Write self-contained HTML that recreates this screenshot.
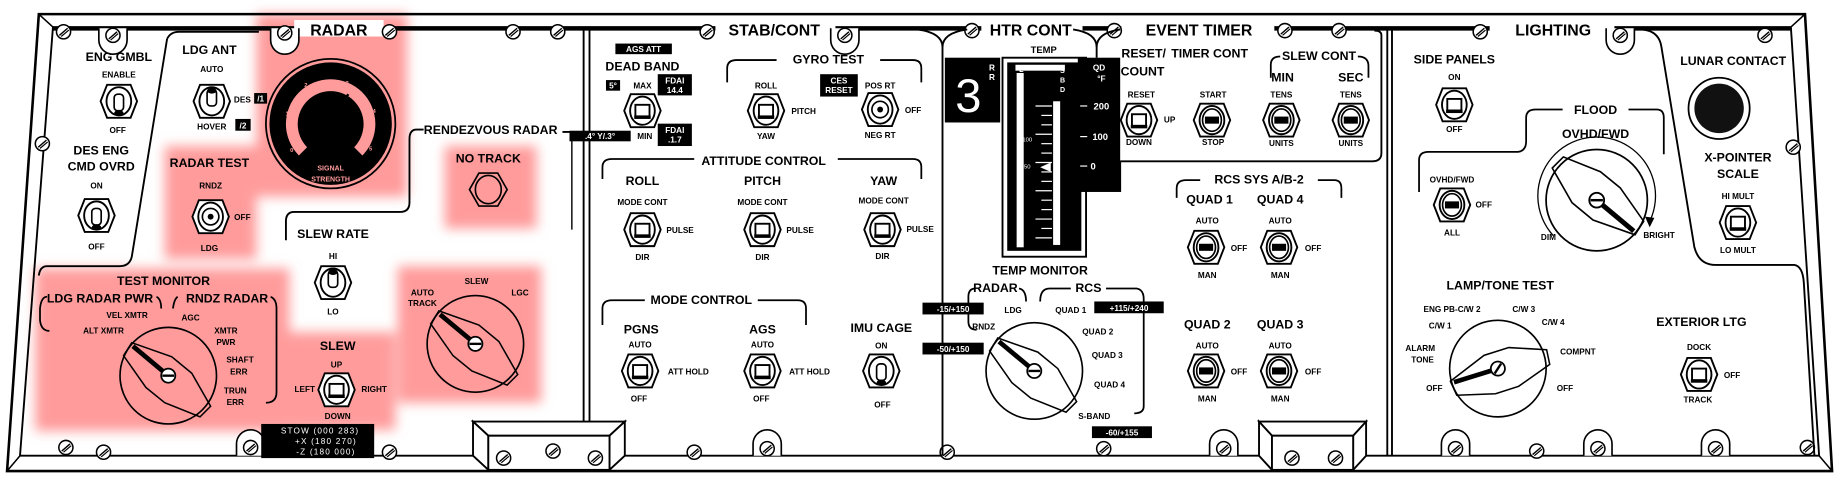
<!DOCTYPE html>
<html><head><meta charset="utf-8"><style>
html,body{margin:0;padding:0;background:#fff;}
svg{display:block;}
text{font-family:"Liberation Sans",sans-serif;font-weight:bold;fill:#000;text-anchor:middle;}
.t{font-size:10.5px;}
.h{font-size:13.5px;}
.s{font-size:7px;}
.w{fill:#fff;font-size:7px;}
</style></head><body>
<svg width="1845" height="484" viewBox="0 0 1568 411" preserveAspectRatio="none" xmlns="http://www.w3.org/2000/svg">
<defs>
<filter id="bl" x="-20%" y="-20%" width="140%" height="140%"><feGaussianBlur stdDeviation="5"/></filter>
<g id="nut"><polygon points="-15.5,0 -10,-14 10,-14 15.5,0 10,14 -10,14" fill="#fff" stroke="#000" stroke-width="1.6"/><ellipse rx="10.5" ry="12" fill="#fff" stroke="#000" stroke-width="1.6"/></g>
<g id="tg"><use href="#nut"/><rect x="-4" y="-6" width="8" height="14" rx="3" fill="#fff" stroke="#000" stroke-width="1.4"/><ellipse cx="0" cy="10" rx="4" ry="2.5" fill="#000"/></g>
<g id="tu"><use href="#nut"/><rect x="-4" y="-10" width="8" height="14" rx="3" fill="#fff" stroke="#000" stroke-width="1.4"/><ellipse cx="0" cy="-9" rx="4" ry="2.5" fill="#000"/></g>
<g id="rk"><use href="#nut"/><ellipse rx="8" ry="9.5" fill="none" stroke="#000" stroke-width="1.4"/><rect x="-6" y="-3" width="12" height="6" fill="#000"/></g>
<g id="bx"><use href="#nut"/><rect x="-6" y="-5" width="12" height="10" fill="#fff" stroke="#000" stroke-width="1.6"/><rect x="-7" y="4" width="14" height="3" fill="#000"/></g>
<g id="rot"><circle r="41" fill="none" stroke="#000" stroke-width="1.4"/>
<polygon points="-31,-28 3,-16 20,-2 36,26 27,35 -3,23 -19,10 -38,-17" fill="none" stroke="#000" stroke-width="1.3"/>
<line x1="0" y1="0" x2="-30" y2="-25" stroke="#000" stroke-width="4"/>
<circle r="6" fill="#fff" stroke="#000" stroke-width="1.5"/><line x1="-5" y1="0" x2="5" y2="0" stroke="#000" stroke-width="2"/></g>
<g id="sc"><circle r="6" fill="#fff" stroke="#000" stroke-width="1.3"/><line x1="-3.5" y1="3" x2="3.5" y2="-3" stroke="#000" stroke-width="1.2"/><line x1="-2" y1="4" x2="4.5" y2="-1.5" stroke="#000" stroke-width="1"/></g>
</defs>

<g fill="#ff9b9b" filter="url(#bl)">
<rect x="218" y="12" width="128" height="155"/>
<rect x="140" y="124" width="78" height="96"/>
<rect x="378" y="124" width="78" height="70"/>
<rect x="30" y="228" width="216" height="138"/>
<rect x="244" y="282" width="92" height="83"/>
<rect x="338" y="226" width="122" height="116"/>
</g>

<polygon points="33,12 1534,12 1557,400 6,400" fill="none" stroke="#000" stroke-width="2.2"/>
<polygon points="45,23 1522,23 1546,387 17,387" fill="none" stroke="#000" stroke-width="1.6"/>
<line x1="33" y1="12" x2="45" y2="23" stroke="#000" stroke-width="1.3"/>
<line x1="1534" y1="12" x2="1522" y2="23" stroke="#000" stroke-width="1.3"/>
<line x1="6" y1="400" x2="17" y2="387" stroke="#000" stroke-width="1.3"/>
<line x1="1557" y1="400" x2="1546" y2="387" stroke="#000" stroke-width="1.3"/>
<line x1="45" y1="24.5" x2="1522" y2="24.5" stroke="#000" stroke-width="3"/>

<g fill="#fff">
<rect x="250" y="17" width="76" height="14"/>
<rect x="608" y="17" width="102" height="14"/>
<rect x="834" y="17" width="86" height="14"/>
<rect x="953" y="17" width="130" height="14"/>
<rect x="1266" y="17" width="106" height="14"/>
</g>
<text class="h" x="288" y="30">RADAR</text>
<text class="h" x="658" y="30">STAB/CONT</text>
<text class="h" x="876" y="30">HTR CONT</text>
<text class="h" x="1019" y="30">EVENT TIMER</text>
<text class="h" x="1320" y="30">LIGHTING</text>

<g fill="#fff" stroke="#000" stroke-width="1.4">
<path d="M84,24 L84,34 A12,12 0 0 0 108,34 L108,24"/>
<path d="M230,24 L230,34 A12,12 0 0 0 254,34 L254,24"/>
<path d="M706,24 L706,34 A12,12 0 0 0 730,34 L730,24"/>
<path d="M1365,24 L1365,34 A12,12 0 0 0 1389,34 L1389,24"/>
<path d="M201,387 L201,377 A12,12 0 0 1 225,377 L225,387"/>
<path d="M640,387 L640,377 A12,12 0 0 1 664,377 L664,387"/>
<path d="M1028,387 L1028,377 A12,12 0 0 1 1052,377 L1052,387"/>
<path d="M1225,387 L1225,377 A12,12 0 0 1 1249,377 L1249,387"/>
<path d="M1346,387 L1346,377 A12,12 0 0 1 1370,377 L1370,387"/>
<path d="M1446,387 L1446,377 A12,12 0 0 1 1470,377 L1470,387"/>
</g>
<use href="#sc" x="54" y="27"/><use href="#sc" x="96" y="30"/><use href="#sc" x="242" y="28"/><use href="#sc" x="331" y="27"/>
<use href="#sc" x="436" y="27"/><use href="#sc" x="474" y="27"/><use href="#sc" x="601" y="27"/><use href="#sc" x="718" y="30"/>
<use href="#sc" x="826" y="26"/><use href="#sc" x="947" y="26"/><use href="#sc" x="1092" y="26"/><use href="#sc" x="1138" y="26"/>
<use href="#sc" x="1258" y="27"/><use href="#sc" x="1377" y="30"/><use href="#sc" x="1500" y="30"/><use href="#sc" x="1524" y="125"/>
<use href="#sc" x="36" y="122"/><use href="#sc" x="56" y="380"/><use href="#sc" x="88" y="384"/><use href="#sc" x="213" y="380"/>
<use href="#sc" x="331" y="384"/><use href="#sc" x="590" y="384"/><use href="#sc" x="652" y="381"/><use href="#sc" x="805" y="384"/>
<use href="#sc" x="938" y="381"/><use href="#sc" x="1040" y="381"/><use href="#sc" x="1237" y="381"/><use href="#sc" x="1306" y="383"/>
<use href="#sc" x="1358" y="381"/><use href="#sc" x="1458" y="381"/><use href="#sc" x="1536" y="380"/>

<g stroke="#000" fill="none" stroke-width="1.6">
<line x1="496" y1="25" x2="496" y2="387"/><line x1="501" y1="25" x2="501" y2="387"/>
<path d="M142,33 Q145,27 152,27 L220,27"/>
<path d="M142,33 L112,218 Q110,226 102,226 L40,226 Q34,226 33,234"/>
<path d="M780,25 Q801,28 801,40 L801,387"/>
<path d="M822,25 Q801,28 801,40"/>
<path d="M912,25 Q932,28 932,40 L932,49"/>
<path d="M952,25 Q932,28 932,40"/>
<path d="M1174,30 Q1174,26 1168,26 M1174,30 L1174,130 Q1174,137 1166,137 L952,137"/>
<line x1="1179" y1="25" x2="1179" y2="387"/><line x1="1183" y1="25" x2="1183" y2="387"/>
<path d="M1395,25 Q1410,26 1412,40 L1440,210 Q1444,225 1458,225 L1525,225 Q1532,226 1533,240 L1542,387"/>
<path d="M360,110 L354,110 Q348,110 348,118 L348,172 Q348,180 340,180 L250,180 Q243,180 243,188 L243,204"/>
<line x1="478" y1="112" x2="497" y2="112"/>
<path d="M486,114 L486,195" stroke-width="1.2"/>
</g>

<g stroke="#000" stroke-width="1.6" fill="#fff">
<polygon points="402,358 531,358 518,370 415,370"/>
<polygon points="402,358 415,370 415,399 402,387"/>
<polygon points="531,358 518,370 518,399 531,387"/>
<rect x="415" y="370" width="103" height="29"/>
<polygon points="1070,358 1161,358 1150,370 1081,370"/>
<polygon points="1070,358 1081,370 1081,399 1070,387"/>
<polygon points="1161,358 1150,370 1150,399 1161,387"/>
<rect x="1081" y="370" width="69" height="29"/>
</g>
<use href="#sc" x="428" y="389"/><use href="#sc" x="470" y="383"/><use href="#sc" x="506" y="389"/>
<use href="#sc" x="1098" y="389"/><use href="#sc" x="1135" y="389"/>

<text class="t" x="101" y="52">ENG GMBL</text>
<text class="s" x="101" y="66">ENABLE</text>
<use href="#tg" x="101" y="86"/>
<text class="s" x="100" y="113">OFF</text>
<text class="t" x="86" y="131">DES ENG</text>
<text class="t" x="86" y="145">CMD OVRD</text>
<text class="s" x="82" y="160">ON</text>
<use href="#tg" x="82" y="183"/>
<text class="s" x="82" y="212">OFF</text>

<text class="t" x="178" y="46">LDG ANT</text>
<text class="s" x="180" y="61">AUTO</text>
<use href="#tu" x="180" y="86"/>
<text class="s" x="206" y="87">DES</text>
<rect x="216" y="79" width="11" height="9" fill="#000"/><text class="w" x="221.5" y="86">/1</text>
<text class="s" x="180" y="110">HOVER</text>
<rect x="200" y="101" width="13" height="10" fill="#000"/><text class="w" x="206.5" y="109">/2</text>

<circle cx="281" cy="105" r="55" fill="none" stroke="#000" stroke-width="1.5"/>
<circle cx="281" cy="105" r="52" fill="#000"/>
<path d="M254,132 A38,38 0 1 1 308,132 L301,125 A28,28 0 1 0 261,125 Z" fill="#ff9b9b"/>
<circle cx="281" cy="105" r="16" fill="#000"/>
<polygon points="263,125 299,125 305,136 257,136" fill="#000"/>
<text x="281" y="145" style="fill:#ff9b9b;font-size:6px">SIGNAL</text><text x="281" y="154" style="fill:#ff9b9b;font-size:6px">STRENGTH</text>
<text x="248" y="129" style="fill:#ff9b9b;font-size:5px">0</text><text x="244" y="98" style="fill:#ff9b9b;font-size:5px">1</text><text x="260" y="74" style="fill:#ff9b9b;font-size:5px">2</text><text x="295" y="72" style="fill:#ff9b9b;font-size:5px">3</text><text x="318" y="96" style="fill:#ff9b9b;font-size:5px">4</text><text x="315" y="128" style="fill:#ff9b9b;font-size:5px">5</text>
<line x1="292" y1="86" x2="296" y2="80" stroke="#000" stroke-width="2"/>

<text class="t" x="178" y="142">RADAR TEST</text>
<text class="s" x="179" y="160">RNDZ</text>
<use href="#nut" x="179" y="184"/><circle cx="179" cy="184" r="7" fill="none" stroke="#000" stroke-width="1.4"/><circle cx="179" cy="184" r="2.5" fill="#000"/>
<text class="s" x="206" y="187">OFF</text>
<text class="s" x="178" y="213">LDG</text>

<text class="t" x="417" y="114">RENDEZVOUS RADAR</text>
<rect x="484" y="111" width="52" height="9" fill="#000"/><text class="w" x="510" y="118">.4° Y/.3°</text>
<text class="t" x="415" y="138">NO TRACK</text>
<polygon points="399,161 407,147 423,147 431,161 423,175 407,175" fill="none" stroke="#000" stroke-width="1.4"/>
<ellipse cx="415" cy="161" rx="11" ry="12" fill="none" stroke="#000" stroke-width="1.4"/>

<text class="t" x="283" y="202">SLEW RATE</text>
<text class="s" x="283" y="220">HI</text>
<use href="#tu" x="283" y="240"/>
<text class="s" x="283" y="267">LO</text>

<text class="t" x="139" y="242">TEST MONITOR</text>
<text class="t" x="85" y="257">LDG RADAR PWR</text>
<text class="t" x="193" y="257">RNDZ RADAR</text>
<g stroke="#000" fill="none" stroke-width="1.5">
<path d="M40,252 Q35,252 34,262 L34,272 Q35,281 42,281"/>
<path d="M133,252 Q137,254 137,262"/><path d="M147,262 Q148,254 151,252"/>
<path d="M230,252 Q235,254 235,262 L235,333 Q235,342 226,342"/>
</g>
<text class="s" x="108" y="270">VEL XMTR</text>
<text class="s" x="88" y="283">ALT XMTR</text>
<text class="s" x="162" y="272">AGC</text>
<text class="s" x="192" y="283">XMTR</text><text class="s" x="192" y="293">PWR</text>
<text class="s" x="204" y="308">SHAFT</text><text class="s" x="203" y="318">ERR</text>
<text class="s" x="200" y="334">TRUN</text><text class="s" x="200" y="344">ERR</text>
<use href="#rot" x="143" y="319"/>

<text class="t" x="287" y="297">SLEW</text>
<text class="s" x="286" y="312">UP</text>
<use href="#bx" x="286" y="331"/>
<text class="s" x="259" y="333">LEFT</text>
<text class="s" x="318" y="333">RIGHT</text>
<text class="s" x="287" y="356">DOWN</text>
<rect x="222" y="360" width="96" height="29" fill="#000"/>
<text class="w" x="272" y="368" style="font-weight:normal;letter-spacing:1px">STOW (000 283)</text>
<text class="w" x="277" y="377" style="font-weight:normal;letter-spacing:1px">+X (180 270)</text>
<text class="w" x="277" y="386" style="font-weight:normal;letter-spacing:1px">-Z (180 000)</text>

<text class="s" x="359" y="251">AUTO</text><text class="s" x="359" y="260">TRACK</text>
<text class="s" x="405" y="241">SLEW</text>
<text class="s" x="442" y="251">LGC</text>
<use href="#rot" x="404" y="292"/>

<rect x="523" y="37" width="48" height="9" fill="#000"/><text class="w" x="547" y="44">AGS ATT</text>
<text class="t" x="546" y="60">DEAD BAND</text>
<rect x="515" y="68" width="12" height="9" fill="#000"/><text class="w" x="521" y="75">5°</text>
<text class="s" x="546" y="75">MAX</text>
<rect x="559" y="63" width="29" height="18" fill="#000"/><text class="w" x="573.5" y="71">FDAI</text><text class="w" x="573.5" y="79">14.4</text>
<use href="#bx" x="546" y="94"/>
<text class="s" x="548" y="118">MIN</text>
<rect x="559" y="105" width="29" height="19" fill="#000"/><text class="w" x="573.5" y="113">FDAI</text><text class="w" x="573.5" y="121">.1.7</text>
<text class="t" x="704" y="54">GYRO TEST</text>
<g stroke="#000" fill="none" stroke-width="1.5">
<path d="M618,70 L618,58 Q618,51 626,51 L660,51"/><path d="M748,51 L776,51 Q783,51 783,58 L783,70"/>
<path d="M512,152 L512,142 Q512,135 520,135 L590,135"/><path d="M712,135 L776,135 Q783,135 783,142 L783,152"/>
<path d="M512,276 L512,262 Q512,255 520,255 L548,255"/><path d="M644,255 L678,255 Q685,255 685,262 L685,276"/>
</g>
<text class="s" x="651" y="75">ROLL</text>
<use href="#bx" x="651" y="94"/>
<text class="s" x="683" y="97">PITCH</text>
<text class="s" x="651" y="118">YAW</text>
<rect x="697" y="63" width="32" height="19" fill="#000"/><text class="w" x="713" y="71">CES</text><text class="w" x="713" y="79">RESET</text>
<text class="s" x="748" y="75">POS RT</text>
<use href="#nut" x="748" y="93"/><circle cx="748" cy="93" r="7" fill="none" stroke="#000" stroke-width="1.4"/><circle cx="748" cy="93" r="2.5" fill="#000"/>
<text class="s" x="776" y="96">OFF</text>
<text class="s" x="748" y="117">NEG RT</text>
<text class="t" x="649" y="140">ATTITUDE CONTROL</text>
<text class="t" x="546" y="157">ROLL</text><text class="t" x="648" y="157">PITCH</text><text class="t" x="751" y="157">YAW</text>
<text class="s" x="546" y="174">MODE CONT</text><text class="s" x="648" y="174">MODE CONT</text><text class="s" x="751" y="173">MODE CONT</text>
<use href="#bx" x="546" y="195"/><use href="#bx" x="648" y="195"/><use href="#bx" x="750" y="195"/>
<text class="s" x="578" y="198">PULSE</text><text class="s" x="680" y="198">PULSE</text><text class="s" x="782" y="197">PULSE</text>
<text class="s" x="546" y="221">DIR</text><text class="s" x="648" y="221">DIR</text><text class="s" x="750" y="220">DIR</text>
<text class="t" x="596" y="258">MODE CONTROL</text>
<text class="t" x="545" y="283">PGNS</text><text class="t" x="648" y="283">AGS</text><text class="t" x="749" y="282">IMU CAGE</text>
<text class="s" x="544" y="295">AUTO</text><text class="s" x="648" y="295">AUTO</text><text class="s" x="749" y="296">ON</text>
<use href="#bx" x="544" y="315"/><use href="#bx" x="648" y="315"/><use href="#tg" x="749" y="315"/>
<text class="s" x="585" y="318">ATT HOLD</text><text class="s" x="688" y="318">ATT HOLD</text>
<text class="s" x="543" y="341">OFF</text><text class="s" x="647" y="341">OFF</text><text class="s" x="750" y="346">OFF</text>

<text class="s" x="887" y="45" style="font-size:8px">TEMP</text>
<rect x="803" y="49" width="47" height="55" fill="#000"/>
<text x="823" y="95" style="fill:#fff;font-size:40px;font-weight:normal">3</text>
<text class="w" x="843" y="60">R</text><text class="w" x="843" y="68">R</text>
<rect x="852" y="49" width="71" height="169" fill="#fff" stroke="#000" stroke-width="1.6"/>
<rect x="856" y="53" width="63" height="160" fill="#000"/>
<rect x="864" y="62" width="6" height="148" fill="#fff"/>
<rect x="863" y="55" width="42" height="5" fill="#fff"/>
<rect x="895" y="86" width="6" height="122" fill="#fff"/>
<g stroke="#fff" stroke-width="1">
<line x1="880" y1="90" x2="894" y2="90"/><line x1="885" y1="98" x2="894" y2="98"/><line x1="885" y1="106" x2="894" y2="106"/><line x1="880" y1="114" x2="894" y2="114"/>
<line x1="885" y1="122" x2="894" y2="122"/><line x1="885" y1="130" x2="894" y2="130"/><line x1="880" y1="138" x2="894" y2="138"/><line x1="885" y1="146" x2="894" y2="146"/>
<line x1="885" y1="154" x2="894" y2="154"/><line x1="880" y1="162" x2="894" y2="162"/><line x1="885" y1="170" x2="894" y2="170"/><line x1="885" y1="178" x2="894" y2="178"/>
<line x1="880" y1="186" x2="894" y2="186"/><line x1="885" y1="194" x2="894" y2="194"/><line x1="880" y1="202" x2="894" y2="202"/>
</g>
<polygon points="884,142 893,138 893,146" fill="#fff"/>
<text class="w" x="868" y="61" style="font-size:6px">L</text><text class="w" x="868" y="69" style="font-size:6px">R</text>
<text class="w" x="903" y="62" style="font-size:6px">S</text><text class="w" x="903" y="70" style="font-size:6px">B</text><text class="w" x="903" y="78" style="font-size:6px">D</text>
<text class="w" x="873" y="120" style="font-size:5px;font-weight:normal">100</text><text class="w" x="873" y="143" style="font-size:5px;font-weight:normal">50</text>
<rect x="916" y="49" width="36" height="114" fill="#000"/>
<text class="w" x="934" y="60">QD</text><text class="w" x="936" y="69">°F</text>
<text class="w" x="936" y="93" style="font-size:8px">200</text><text class="w" x="935" y="119" style="font-size:8px">100</text><text class="w" x="929" y="144" style="font-size:8px">0</text>
<g stroke="#fff" stroke-width="1"><line x1="918" y1="90" x2="924" y2="90"/><line x1="918" y1="116" x2="924" y2="116"/><line x1="918" y1="141" x2="924" y2="141"/></g>
<line x1="952" y1="137" x2="952" y2="163" stroke="#000" stroke-width="1.6"/>

<text class="t" x="884" y="233">TEMP MONITOR</text>
<text class="t" x="846" y="248">RADAR</text><text class="t" x="925" y="248">RCS</text>
<g stroke="#000" fill="none" stroke-width="1.5">
<path d="M829,245 Q823,245 823,252 L823,273 Q823,280 830,280"/>
<path d="M866,245 Q872,246 872,256"/>
<path d="M884,256 Q884,245 892,245 L910,245"/>
<path d="M940,245 L966,245 Q972,246 972,254 L972,345 Q972,351 964,351"/>
</g>
<rect x="784" y="257" width="52" height="10" fill="#000"/><text class="w" x="810" y="265">-15/+150</text>
<rect x="930" y="256" width="59" height="10" fill="#000"/><text class="w" x="959.5" y="264">+115/+240</text>
<rect x="784" y="291" width="52" height="10" fill="#000"/><text class="w" x="810" y="299">-50/+150</text>
<rect x="928" y="362" width="51" height="10" fill="#000"/><text class="w" x="953.5" y="370">-60/+155</text>
<text class="s" x="861" y="266">LDG</text><text class="s" x="836" y="280">RNDZ</text>
<text class="s" x="910" y="266">QUAD 1</text><text class="s" x="933" y="284">QUAD 2</text><text class="s" x="941" y="304">QUAD 3</text><text class="s" x="943" y="329">QUAD 4</text>
<text class="s" x="930" y="356">S-BAND</text>
<use href="#rot" x="879" y="315"/>

<text class="t" x="972" y="49">RESET/</text><text class="t" x="971" y="64">COUNT</text>
<text class="t" x="1028" y="49">TIMER CONT</text>
<text class="t" x="1121" y="51">SLEW CONT</text>
<g stroke="#000" fill="none" stroke-width="1.5"><path d="M1080,66 L1080,55 Q1080,48 1088,48"/><path d="M1154,48 Q1163,48 1163,56 L1163,66"/></g>
<text class="t" x="1090" y="69">MIN</text><text class="t" x="1148" y="69">SEC</text>
<text class="s" x="970" y="83">RESET</text><text class="s" x="1031" y="83">START</text><text class="s" x="1089" y="83">TENS</text><text class="s" x="1148" y="83">TENS</text>
<use href="#bx" x="968" y="102"/><use href="#rk" x="1030" y="102"/><use href="#rk" x="1089" y="102"/><use href="#rk" x="1148" y="102"/>
<text class="s" x="994" y="104">UP</text>
<text class="s" x="968" y="123">DOWN</text><text class="s" x="1031" y="123">STOP</text><text class="s" x="1089" y="124">UNITS</text><text class="s" x="1148" y="124">UNITS</text>

<text class="t" x="1070" y="156">RCS SYS A/B-2</text>
<g stroke="#000" fill="none" stroke-width="1.5"><path d="M1000,168 L1000,160 Q1000,153 1008,153 L1020,153"/><path d="M1120,153 L1134,153 Q1140,153 1140,160 L1140,168"/></g>
<text class="t" x="1028" y="173">QUAD 1</text><text class="t" x="1088" y="173">QUAD 4</text>
<text class="s" x="1026" y="190">AUTO</text><text class="s" x="1088" y="190">AUTO</text>
<use href="#rk" x="1025" y="210"/><use href="#rk" x="1087" y="210"/>
<text class="s" x="1053" y="213">OFF</text><text class="s" x="1116" y="213">OFF</text>
<text class="s" x="1026" y="236">MAN</text><text class="s" x="1088" y="236">MAN</text>
<text class="t" x="1026" y="279">QUAD 2</text><text class="t" x="1088" y="279">QUAD 3</text>
<text class="s" x="1026" y="296">AUTO</text><text class="s" x="1088" y="296">AUTO</text>
<use href="#rk" x="1025" y="315"/><use href="#rk" x="1087" y="315"/>
<text class="s" x="1053" y="318">OFF</text><text class="s" x="1116" y="318">OFF</text>
<text class="s" x="1026" y="341">MAN</text><text class="s" x="1088" y="341">MAN</text>

<text class="t" x="1236" y="54">SIDE PANELS</text>
<text class="s" x="1236" y="68">ON</text>
<use href="#bx" x="1236" y="89"/>
<text class="s" x="1236" y="112">OFF</text>
<g stroke="#000" fill="none" stroke-width="1.5">
<path d="M1206,163 L1206,136 Q1206,129 1214,129 L1290,129 Q1297,128 1297,120 L1297,100 Q1297,93 1305,93 L1328,93"/>
<path d="M1384,93 L1408,93 Q1414,93 1414,100 L1414,131"/>
</g>
<text class="t" x="1356" y="97">FLOOD</text>
<text class="t" x="1356" y="117">OVHD/FWD</text>
<text class="s" x="1234" y="155">OVHD/FWD</text>
<use href="#rk" x="1234" y="174"/>
<text class="s" x="1261" y="176">OFF</text>
<text class="s" x="1234" y="200">ALL</text>
<use href="#rot" transform="translate(1357,170) rotate(180) scale(1.05)"/>
<path d="M1320,200 A50,50 0 1 1 1402,188" fill="none" stroke="#000" stroke-width="1.1"/>
<polygon points="1402,193 1398,184 1406,185" fill="#000"/>
<text class="s" x="1316" y="204">DIM</text><text class="s" x="1410" y="202">BRIGHT</text>

<text class="t" x="1473" y="55">LUNAR CONTACT</text>
<circle cx="1461" cy="92" r="26" fill="#fff" stroke="#000" stroke-width="1.5"/>
<circle cx="1461" cy="92" r="21" fill="#111"/>
<text class="t" x="1477" y="137">X-POINTER</text><text class="t" x="1477" y="151">SCALE</text>
<text class="s" x="1477" y="169">HI MULT</text>
<use href="#bx" x="1477" y="189"/>
<text class="s" x="1477" y="215">LO MULT</text>

<text class="t" x="1275" y="246">LAMP/TONE TEST</text>
<text class="s" x="1234" y="265">ENG PB-C/W 2</text><text class="s" x="1295" y="265">C/W 3</text>
<text class="s" x="1224" y="279">C/W 1</text><text class="s" x="1320" y="276">C/W 4</text>
<text class="s" x="1207" y="298">ALARM</text><text class="s" x="1209" y="308">TONE</text>
<text class="s" x="1341" y="301">COMPNT</text>
<text class="s" x="1219" y="332">OFF</text><text class="s" x="1330" y="332">OFF</text>
<use href="#rot" transform="translate(1273,313) rotate(-57)"/>

<text class="t" x="1446" y="277">EXTERIOR LTG</text>
<text class="s" x="1444" y="297">DOCK</text>
<use href="#bx" x="1444" y="318"/>
<text class="s" x="1472" y="321">OFF</text>
<text class="s" x="1443" y="342">TRACK</text>
</svg>
</body></html>
